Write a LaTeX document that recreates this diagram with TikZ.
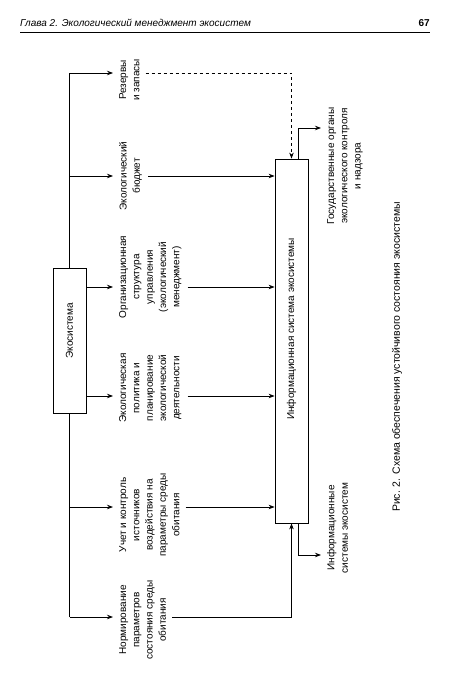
\documentclass[tikz,border=0pt]{standalone}
\usepackage{fontspec}
\setmainfont{Liberation Sans}
\usetikzlibrary{positioning, arrows.meta, calc}
\tikzset{
  box/.style={
    draw,
    rectangle,
    line width=0.8pt,
    inner sep=0pt
  },
  txt/.style={
    rotate=90,
    anchor=north,
    align=center,
    inner xsep=2pt,
    inner ysep=6pt,
    font=\fontsize{10}{13.3}\selectfont
  },
  link/.style={
    line width=0.8pt,
    -{Stealth[length=6pt,width=4.5pt]}
  }
}

\begin{document}
\begin{tikzpicture}[x=1pt, y=-1pt]
    \useasboundingbox (0,0) rectangle (450,684);

    % page header
    \node[anchor=base west, inner sep=0pt, font=\fontsize{10}{12}\selectfont\itshape] (head) at (20,27) {Глава 2. Экологический менеджмент экосистем};
    \node[anchor=base east, inner sep=0pt, font=\fontsize{10}{12}\selectfont\bfseries] (page) at (430,27) {67};
    \draw[line width=0.6pt] (20,32) -- (430,32);

    % boxes
    \node[box, minimum width=33pt, minimum height=145pt] (eco) at (69.5,341) {};
    \node[rotate=90, font=\fontsize{10}{12}\selectfont] (ecotxt) at (69.5,331) {Экосистема};
    \node[box, minimum width=33pt, minimum height=364pt] (info) at (291.5,341) {};
    \node[rotate=90, font=\fontsize{10}{12}\selectfont] (infotxt) at (291.5,329) {Информационная система экосистемы};

    % branch points on the trunk
    \coordinate (r1) at (69.5,73);
    \coordinate (r2) at (69.5,176);
    \coordinate (r3) at (69.5,287);
    \coordinate (r4) at (69.5,396);
    \coordinate (r5) at (69.5,507);
    \coordinate (r6) at (69.5,617);

    % middle column
    \node[txt] (res) at (113,80) {Резервы\\и запасы};
    \node[txt] (bud) at (113,176) {Экологический\\бюджет};
    \node[txt] (org) at (113,277) {Организационная\\структура\\управления\\(экологический\\менеджмент)};
    \node[txt] (pol) at (113,388) {Экологическая\\политика и\\планирование\\экологической\\деятельности};
    \node[txt] (uch) at (113,515) {Учет и контроль\\источников\\воздействия на\\параметры среды\\обитания};
    \node[txt] (norm) at (113,620) {Нормирование\\параметров\\состояния среды\\обитания};

    % outputs
    \node[txt] (gos) at (321,166) {Государственные органы\\экологического контроля\\и надзора};
    \node[txt] (isys) at (321,528) {Информационные\\системы экосистем};

    % caption
    \node[rotate=90, inner sep=0pt, font=\fontsize{10.5}{12}\selectfont] (cap) at (397,357) {Рис. 2. Схема обеспечения устойчивого состояния экосистемы};

    % ecosystem -> activities
    \draw[line width=0.8pt] (eco.north) -- (r1);
    \draw[line width=0.8pt] (eco.south) -- (r6);
    \draw[link] (r1) -- (r1 -| res.north);
    \draw[link] (r2) -- (r2 -| bud.north);
    \draw[link] (eco.east |- r3) -- (r3 -| org.north);
    \draw[link] (eco.east |- r4) -- (r4 -| pol.north);
    \draw[link] (r5) -- (r5 -| uch.north);
    \draw[link] (r6) -- (r6 -| norm.north);

    % activities -> information system
    \draw[link, dashed] (res.south |- r1) -| (info.north);
    \draw[link] (bud.south |- r2) -- (info.west |- r2);
    \draw[link] (org.south |- r3) -- (info.west |- r3);
    \draw[link] (pol.south |- r4) -- (info.west |- r4);
    \draw[link] (uch.south |- r5) -- (info.west |- r5);
    \draw[link] (norm.south |- r6) -| (info.south);

    % information system -> users
    \draw[link] ($(info.north)+(7,0)$) |- ($(gos.north)+(0,-38)$);
    \draw[link] ($(info.south)+(7,0)$) |- ($(isys.north)+(0,27)$);
\end{tikzpicture}
\end{document}
